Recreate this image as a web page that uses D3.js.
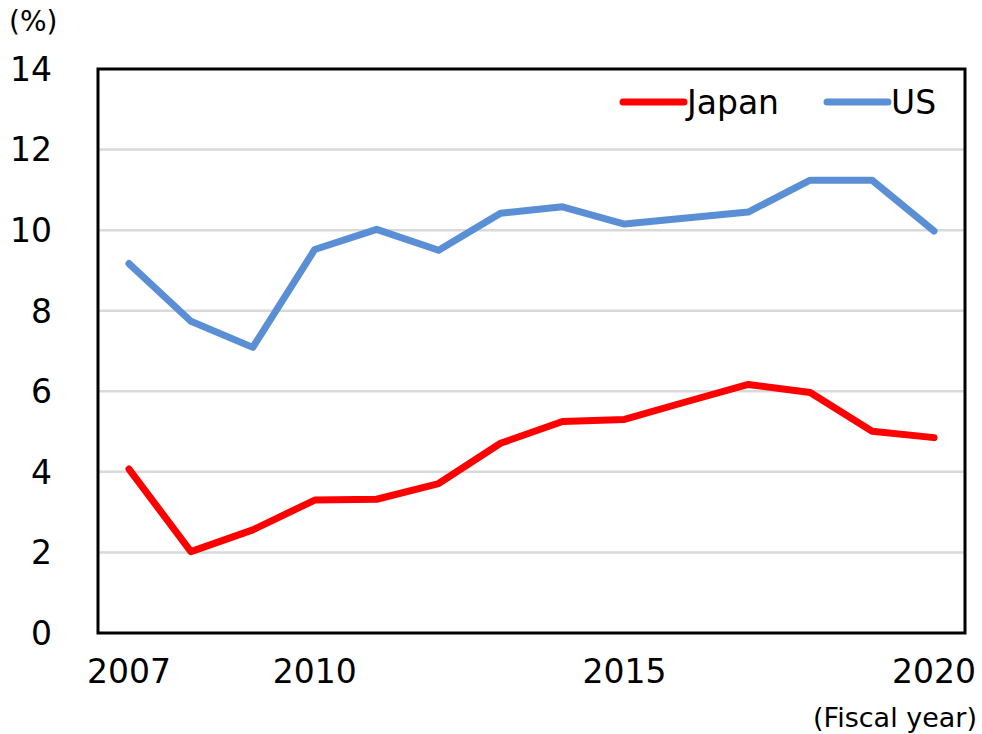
<!DOCTYPE html>
<html>
<head>
  <meta charset="utf-8">
  <script src="https://d3js.org/d3.v7.min.js"></script>
  <title>Japan vs US</title>
  <style>
    body { margin: 0; background: #fff; }
    text { font-family: "DejaVu Sans", Verdana, sans-serif; fill: #000; }
  </style>
</head>
<body>
<script>
var years = [2007, 2008, 2009, 2010, 2011, 2012, 2013, 2014, 2015, 2016, 2017, 2018, 2019, 2020];
var japan = [4.07, 2.02, 2.56, 3.30, 3.32, 3.71, 4.71, 5.25, 5.30, 5.74, 6.17, 5.97, 5.01, 4.85];
var us = [9.17, 7.74, 7.09, 9.52, 10.02, 9.50, 10.42, 10.58, 10.15, 10.30, 10.45, 11.24, 11.24, 9.98];
var xTicks = [2007, 2010, 2015, 2020];
var yTicks = [0, 2, 4, 6, 8, 10, 12, 14];
var seriesNames = ["Japan", "US"];
var seriesColors = ["#ff0000", "#5b8fd5"];

var W = 982, H = 734;
var pLeft = 98, pRight = 965, pTop = 69, pBottom = 633;

var svg = d3.select("body").append("svg")
  .attr("width", W)
  .attr("height", H);

var x = d3.scaleLinear().domain([2006.5, 2020.5]).range([pLeft, pRight]);
var y = d3.scaleLinear().domain([0, 14]).range([pBottom, pTop]);

// gridlines
svg.selectAll(".grid")
  .data(yTicks.filter(function(d){ return d > 0 && d < 14; }))
  .enter().append("line")
  .attr("x1", pLeft).attr("x2", pRight)
  .attr("y1", function(d){ return y(d); })
  .attr("y2", function(d){ return y(d); })
  .style("stroke", "#d9d9d9")
  .style("stroke-width", "2.5px");

// y labels
svg.selectAll(".ylab")
  .data(yTicks)
  .enter().append("text")
  .attr("x", 52)
  .attr("y", function(d){ return y(d); })
  .attr("dy", "0.36em")
  .attr("text-anchor", "end")
  .attr("font-size", 33)
  .text(function(d){ return d; });

// x labels
svg.selectAll(".xlab")
  .data(xTicks)
  .enter().append("text")
  .attr("x", function(d){ return x(d); })
  .attr("y", 683)
  .attr("text-anchor", "middle")
  .attr("font-size", 33)
  .text(function(d){ return d; });

svg.append("text")
  .attr("x", 9).attr("y", 31)
  .attr("font-size", 28)
  .text("(%)");

svg.append("text")
  .attr("x", 977).attr("y", 727)
  .attr("text-anchor", "end")
  .attr("font-size", 27)
  .text("(Fiscal year)");

// lines
var line = d3.line()
  .x(function(d, i){ return x(years[i]); })
  .y(function(d){ return y(d); });

[japan, us].forEach(function(vals, k){
  svg.append("path")
    .datum(vals)
    .attr("d", line)
    .style("fill", "none")
    .style("stroke", seriesColors[k])
    .style("stroke-width", "7px")
    .style("stroke-linecap", "round")
    .style("stroke-linejoin", "round");
});

// frame
svg.append("rect")
  .attr("x", pLeft).attr("y", pTop)
  .attr("width", pRight - pLeft).attr("height", pBottom - pTop)
  .style("fill", "none")
  .style("stroke", "#000")
  .style("stroke-width", "3px");

// legend
var legX = [623, 827];
seriesNames.forEach(function(name, k){
  svg.append("line")
    .attr("x1", legX[k]).attr("x2", legX[k] + 61)
    .attr("y1", 102).attr("y2", 102)
    .style("stroke", seriesColors[k])
    .style("stroke-width", "7px")
    .style("stroke-linecap", "round");
  svg.append("text")
    .attr("x", legX[k] + 64)
    .attr("y", 102)
    .attr("dy", "0.36em")
    .attr("font-size", 33)
    .text(name);
});
</script>
</body>
</html>
